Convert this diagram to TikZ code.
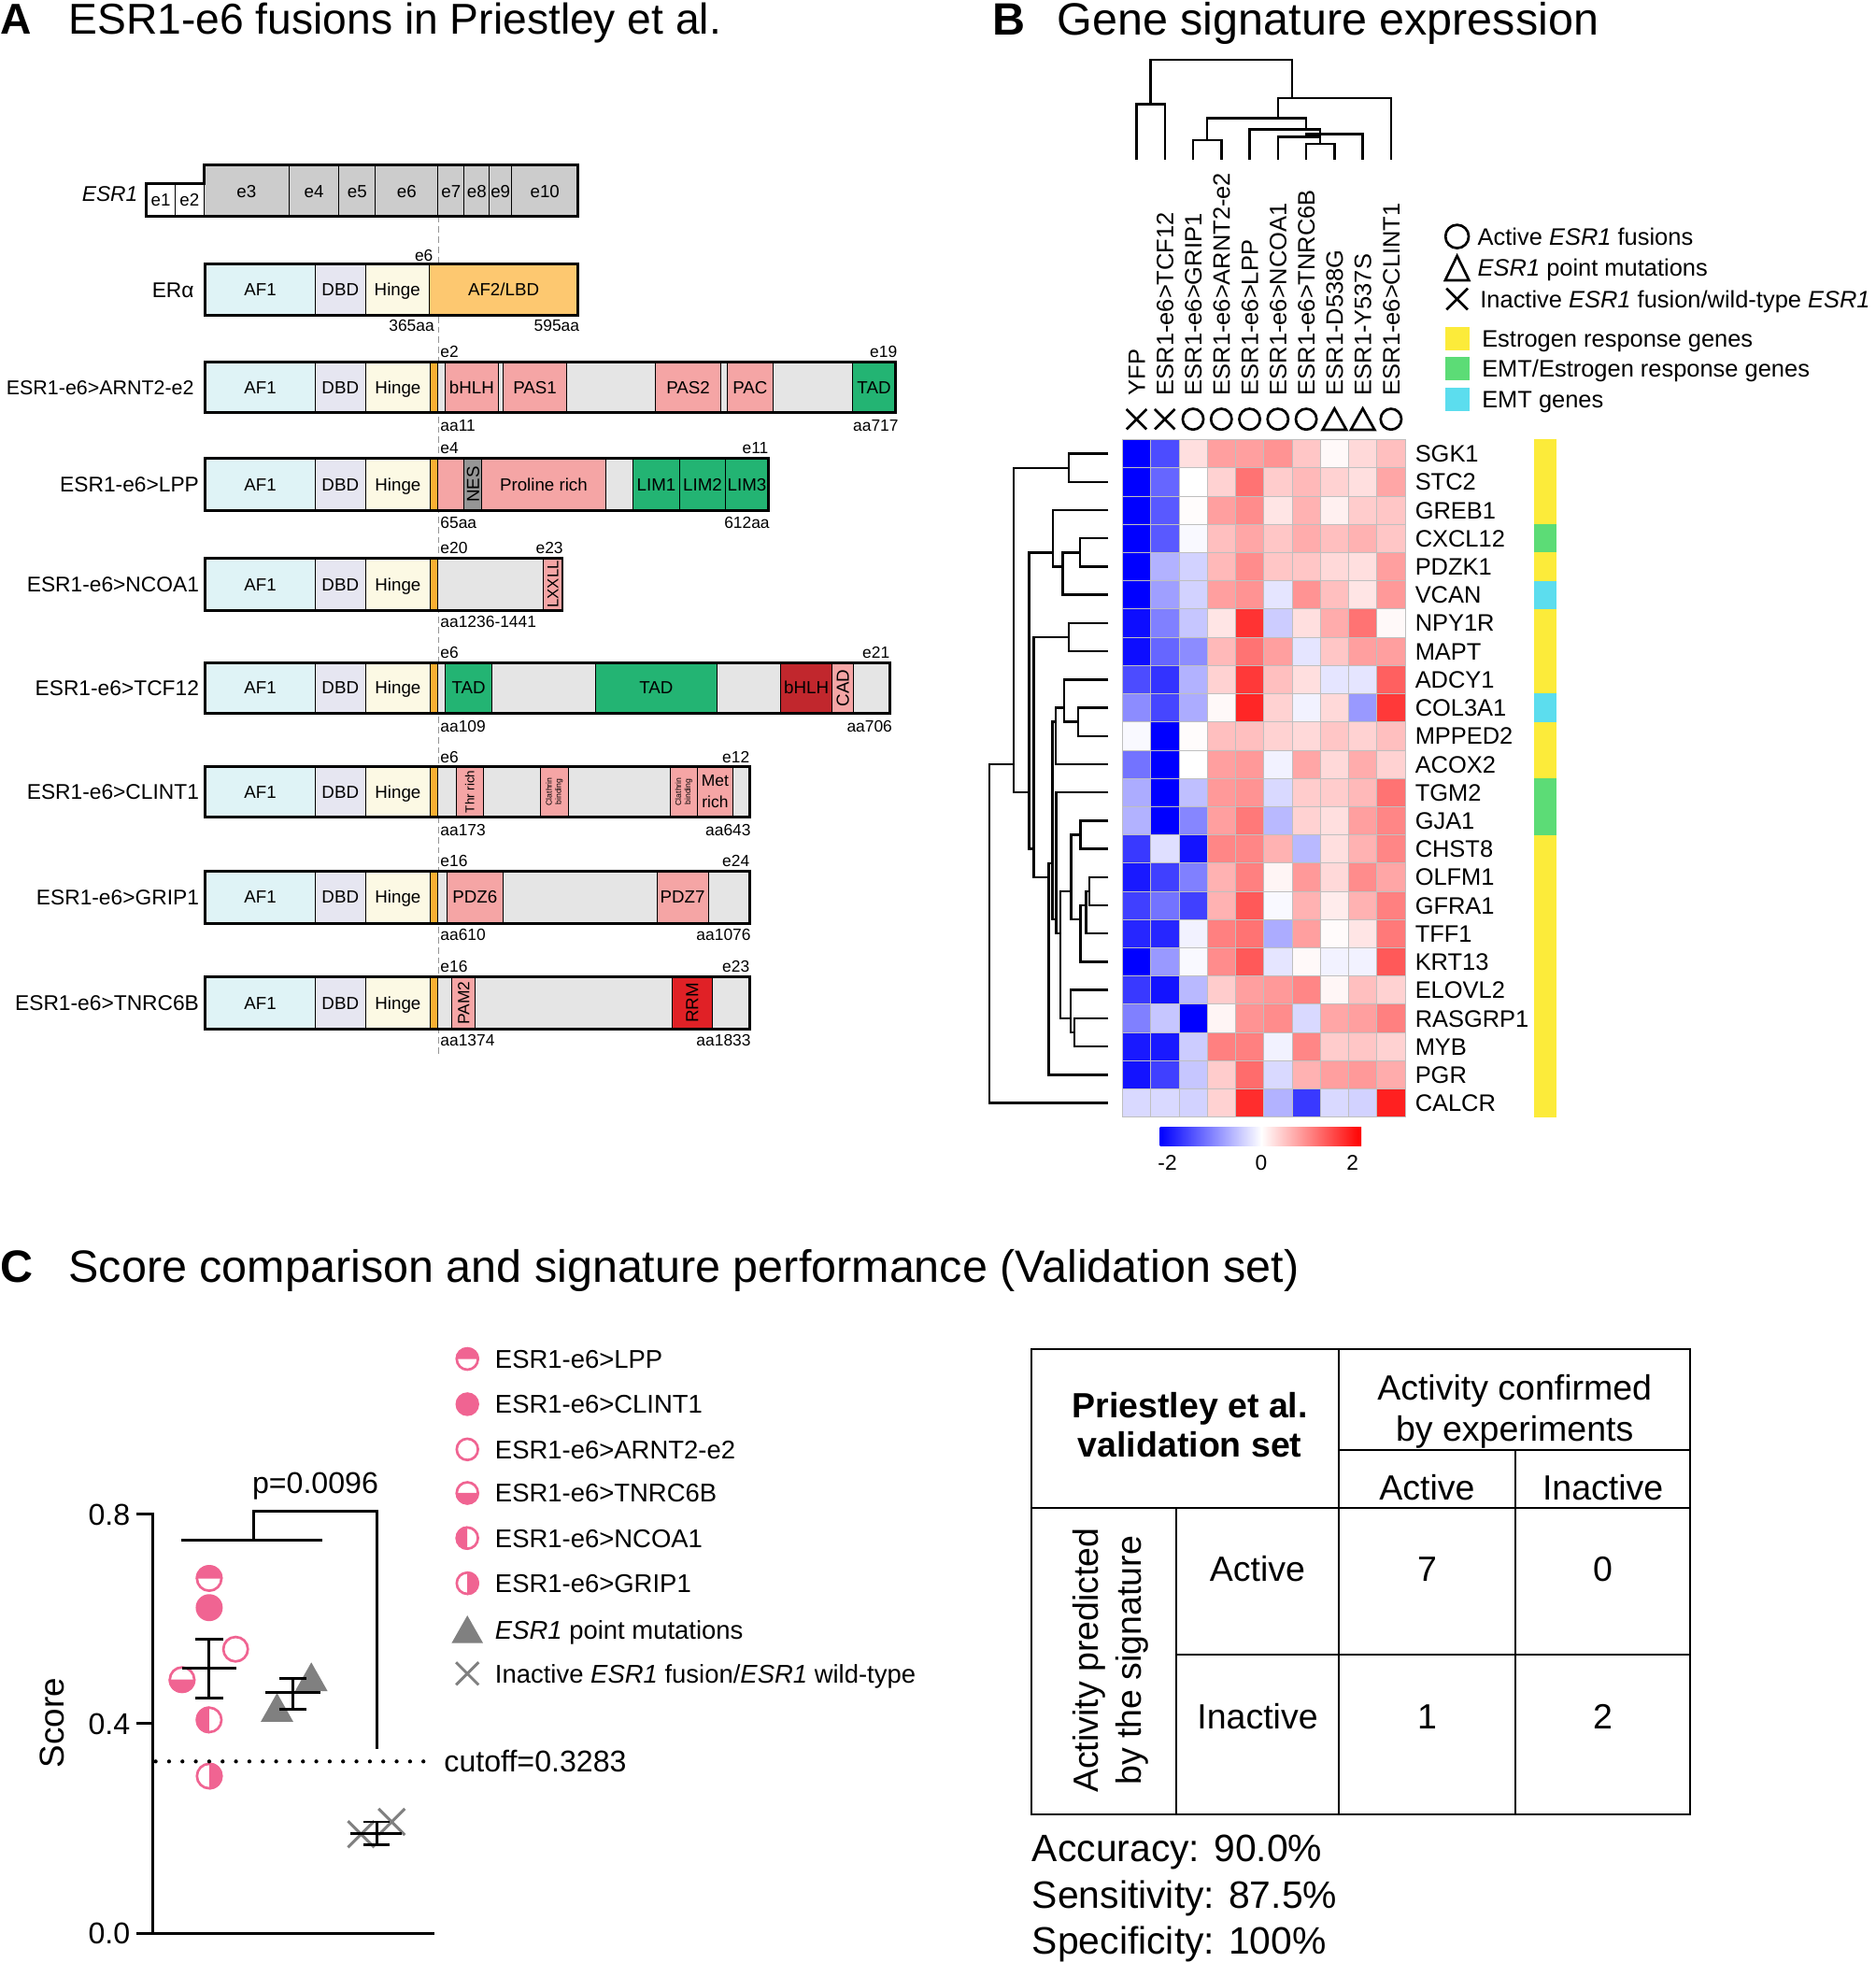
\documentclass[tikz,border=0pt]{standalone}
\usepackage{fontspec}
\setmainfont{Liberation Sans}
\definecolor{af1c}{RGB}{223,243,246}
\definecolor{dbdc}{RGB}{230,230,241}
\definecolor{hingec}{RGB}{252,249,228}
\definecolor{af2c}{RGB}{253,200,112}
\definecolor{orc}{RGB}{250,176,50}
\definecolor{pinkd}{RGB}{245,165,165}
\definecolor{grayd}{RGB}{229,229,229}
\definecolor{greend}{RGB}{35,180,115}
\definecolor{dredd}{RGB}{193,39,45}
\definecolor{redd}{RGB}{224,33,38}
\definecolor{nesc}{RGB}{150,150,150}
\definecolor{exonc}{RGB}{204,204,204}
\definecolor{annY}{RGB}{252,235,58}
\definecolor{annG}{RGB}{92,220,118}
\definecolor{annC}{RGB}{92,221,238}
\definecolor{pinkc}{RGB}{240,100,146}
\definecolor{grayc}{RGB}{128,128,128}
\definecolor{dashc}{RGB}{150,150,150}
\newcommand\fsz[1]{\fontsize{#1}{#1}\selectfont}
\newcommand\dseg[4]{\filldraw[fill=#3, thinln] (#1,\yt) rectangle (#2,\yb); \node[f14] at ({(#1+#2)/2},{(\yt+\yb)/2}) {#4};}
\newcommand\esrpart{\dseg{164}{252}{af1c}{AF1}\dseg{252}{292}{dbdc}{DBD}\dseg{292}{344}{hingec}{Hinge}\dseg{344}{350}{orc}{}}
\newcommand\cxx[1]{897+22.6*(#1-0.5)}
\newcommand\ryy[1]{351.3+22.56*(#1-0.5)}
\newcommand\tdm[5]{\draw[dend] ({\cxx{#1}},#2) -- ({\cxx{#1}},#5) -- ({\cxx{#3}},#5) -- ({\cxx{#3}},#4);}
\newcommand\rdm[5]{\draw[dend] (#2,{\ryy{#3}}) -- (#1,{\ryy{#3}}) -- (#1,{\ryy{#5}}) -- (#4,{\ryy{#5}});}
\newcommand\hcirc[4]{\fill[white] (#1,#2) circle[radius=#3pt];
  \fill[pinkc] (#1,#2) ++(#4:#3pt) arc[start angle=#4, delta angle=180, radius=#3pt] -- cycle;
  \draw[pinkc, line width=2pt] (#1,#2) circle[radius={#3pt-1pt}];}
\newcommand\fcirc[3]{\fill[pinkc] (#1,#2) circle[radius=#3pt];}
\newcommand\ocirc[3]{\fill[white] (#1,#2) circle[radius=#3pt]; \draw[pinkc, line width=2pt] (#1,#2) circle[radius={#3pt-1pt}];}
\begin{document}
\begin{tikzpicture}[x=1pt,y=-1pt,
  every node/.style={inner sep=0pt,outer sep=0pt},
  f13/.style={font=\fsz{13}, text height=9.3pt, text depth=0pt},
  f14/.style={font=\fsz{14}, text height=10pt, text depth=0pt},
  f16/.style={font=\fsz{16}, text height=11.5pt, text depth=0pt},
  f17/.style={font=\fsz{17}, text height=12.2pt, text depth=0pt},
  f19/.style={font=\fsz{19}, text height=13.6pt, text depth=0pt},
  f205/.style={font=\fsz{20.5}, text height=14.7pt, text depth=0pt},
  f24/.style={font=\fsz{24}, text height=17.2pt, text depth=0pt},
  f27/.style={font=\fsz{27.5}, text height=19.7pt, text depth=0pt},
  f28/.style={font=\fsz{28}, text height=20pt, text depth=0pt},
  f30/.style={font=\fsz{30.5}, text height=21.8pt, text depth=0pt},
  f345/.style={font=\fsz{34.5}, text height=24.7pt, text depth=0pt},
  f36/.style={font=\fsz{36.2}, text height=25.9pt, text depth=0pt},
  thinln/.style={line width=0.7pt},
  outer/.style={line width=2.2pt},
  dend/.style={line width=1.8pt},
  ebar/.style={line width=2.2pt},
  tline/.style={line width=1.5pt}
]
\useasboundingbox (0,0) rectangle (1499,1568);
\fill[white] (0,0) rectangle (1499,1568);

% ================= Panel A =================
\node[f345, anchor=west] (tA) at (0,15) {\textbf{A}};
\node[f345, anchor=west] (tAt) at (55,15) {ESR1-e6 fusions in Priestley et al.};

\draw[dashc, line width=1pt, dash pattern=on 5pt off 3pt] (350.5,173) -- (350.5,842);

% ESR1 exons
\filldraw[fill=white, thinln] (117,147) rectangle (140,173);
\filldraw[fill=white, thinln] (140,147) rectangle (163,173);
\node[f14] at (128.5,160) {e1};
\node[f14] at (151.5,160) {e2};
\foreach \a/\b/\l in {163/231/e3, 231/271/e4, 271/300/e5, 300/350/e6, 350/371/e7, 371/391/e8, 391/409/e9, 409/462/e10} {
  \filldraw[fill=exonc, thinln] (\a,131.5) rectangle (\b,173);
  \node[f14] at ({(\a+\b)/2},153) {\l};
}
\draw[outer] (117,147) -- (163,147) -- (163,131.5) -- (462,131.5) -- (462,173) -- (117,173) -- cycle;
\node[f17, anchor=east] (esr1) at (110,155) {\textit{ESR1}};

% ER alpha
\def\yt{211}\def\yb{252}
\dseg{164}{252}{af1c}{AF1}
\dseg{252}{292}{dbdc}{DBD}
\dseg{292}{343}{hingec}{Hinge}
\dseg{343}{462}{af2c}{AF2/LBD}
\draw[outer] (164,\yt) rectangle (462,\yb);
\node[f17, anchor=east] (era) at (155,232) {ERα};
\node[f13, anchor=east] at (346,204) {e6};
\node[f13, anchor=east] at (347,260) {365aa};
\node[f13, anchor=east] at (463,260) {595aa};

% ARNT2
\def\yt{289}\def\yb{330}
\esrpart
\dseg{350}{356}{grayd}{}
\dseg{356}{398}{pinkd}{bHLH}
\dseg{398}{402}{grayd}{}
\dseg{402}{453}{pinkd}{PAS1}
\dseg{453}{524}{grayd}{}
\dseg{524}{576}{pinkd}{PAS2}
\dseg{576}{581}{grayd}{}
\dseg{581}{618}{pinkd}{PAC}
\dseg{618}{681}{grayd}{}
\dseg{681}{716}{greend}{TAD}
\draw[outer] (164,\yt) rectangle (716,\yb);
\node[f16, anchor=east] (rARNT) at (155,309.5) {ESR1-e6>ARNT2-e2};
\node[f13, anchor=west] at (352,281) {e2};
\node[f13, anchor=east] at (717,281) {e19};
\node[f13, anchor=west] at (352,340) {aa11};
\node[f13, anchor=east] at (718,340) {aa717};

% LPP
\def\yt{366.5}\def\yb{408}
\esrpart
\dseg{350}{371}{pinkd}{}
\dseg{371}{385}{nesc}{}
\node[f14, rotate=90] at (378,387.25) {NES};
\dseg{385}{484}{pinkd}{Proline rich}
\dseg{484}{506}{grayd}{}
\dseg{506}{543}{greend}{LIM1}
\dseg{543}{580}{greend}{LIM2}
\dseg{580}{614}{greend}{LIM3}
\draw[outer] (164,\yt) rectangle (614,\yb);
\node[f17, anchor=east] (rLPP) at (159,387) {ESR1-e6>LPP};
\node[f13, anchor=west] at (352,358) {e4};
\node[f13, anchor=east] at (614,358) {e11};
\node[f13, anchor=west] at (352,417.5) {65aa};
\node[f13, anchor=east] at (615,417.5) {612aa};

% NCOA1
\def\yt{446}\def\yb{488}
\esrpart
\dseg{350}{434}{grayd}{}
\dseg{434}{449.5}{pinkd}{}
\node[font=\fsz{12.5}, text height=9pt, text depth=0pt, rotate=90] at (441.75,467) {LXXLL};
\draw[outer] (164,\yt) rectangle (449.5,\yb);
\node[f17, anchor=east] (rNCOA) at (159,467) {ESR1-e6>NCOA1};
\node[f13, anchor=west] at (352,438) {e20};
\node[f13, anchor=east] at (450,438) {e23};
\node[f13, anchor=west] at (352,497) {aa1236-1441};

% TCF12
\def\yt{529.5}\def\yb{570}
\esrpart
\dseg{350}{356}{grayd}{}
\dseg{356}{393}{greend}{TAD}
\dseg{393}{476}{grayd}{}
\dseg{476}{573}{greend}{TAD}
\dseg{573}{624}{grayd}{}
\dseg{624}{665}{dredd}{bHLH}
\dseg{665}{682}{pinkd}{}
\node[f14, rotate=90] at (673.5,549.75) {CAD};
\dseg{682}{711}{grayd}{}
\draw[outer] (164,\yt) rectangle (711,\yb);
\node[f17, anchor=east] (rTCF) at (159,550) {ESR1-e6>TCF12};
\node[f13, anchor=west] at (352,521) {e6};
\node[f13, anchor=east] at (711,521) {e21};
\node[f13, anchor=west] at (352,580) {aa109};
\node[f13, anchor=east] at (713,580) {aa706};

% CLINT1
\def\yt{612.5}\def\yb{653}
\esrpart
\dseg{350}{365}{grayd}{}
\dseg{365}{386}{pinkd}{}
\node[font=\fsz{10}, text height=7.2pt, text depth=0pt, rotate=90] at (375.5,632.75) {Thr rich};
\dseg{386}{432}{grayd}{}
\dseg{432}{454}{pinkd}{}
\node[font=\fontsize{6.5}{7.5}\selectfont, align=center, rotate=90] at (443,632.75) {Clathrin\\binding};
\dseg{454}{536}{grayd}{}
\dseg{536}{557}{pinkd}{}
\node[font=\fontsize{6.5}{7.5}\selectfont, align=center, rotate=90] at (546.5,632.75) {Clathrin\\binding};
\dseg{557}{586}{pinkd}{}
\node[font=\fontsize{13}{17}\selectfont, align=center] at (571.5,632.75) {Met\\rich};
\dseg{586}{599}{grayd}{}
\draw[outer] (164,\yt) rectangle (599,\yb);
\node[f17, anchor=east] (rCLINT) at (159,633) {ESR1-e6>CLINT1};
\node[f13, anchor=west] at (352,605) {e6};
\node[f13, anchor=east] at (599,605) {e12};
\node[f13, anchor=west] at (352,663) {aa173};
\node[f13, anchor=east] at (600,663) {aa643};

% GRIP1
\def\yt{696}\def\yb{738}
\esrpart
\dseg{350}{357}{grayd}{}
\dseg{357}{402}{pinkd}{PDZ6}
\dseg{402}{525}{grayd}{}
\dseg{525}{566}{pinkd}{PDZ7}
\dseg{566}{599}{grayd}{}
\draw[outer] (164,\yt) rectangle (599,\yb);
\node[f17, anchor=east] (rGRIP) at (159,717) {ESR1-e6>GRIP1};
\node[f13, anchor=west] at (352,688) {e16};
\node[f13, anchor=east] at (599,688) {e24};
\node[f13, anchor=west] at (352,746.5) {aa610};
\node[f13, anchor=east] at (600,746.5) {aa1076};

% TNRC6B
\def\yt{780.5}\def\yb{822.5}
\esrpart
\dseg{350}{361}{grayd}{}
\dseg{361}{380}{pinkd}{}
\node[font=\fsz{13}, text height=9.3pt, text depth=0pt, rotate=90] at (370.5,801.5) {PAM2};
\dseg{380}{537}{grayd}{}
\dseg{537}{569}{redd}{}
\node[f14, rotate=90] at (553,801.5) {RRM};
\dseg{569}{599}{grayd}{}
\draw[outer] (164,\yt) rectangle (599,\yb);
\node[f17, anchor=east] (rTNRC) at (159,801.5) {ESR1-e6>TNRC6B};
\node[f13, anchor=west] at (352,772.6) {e16};
\node[f13, anchor=east] at (599,772.6) {e23};
\node[f13, anchor=west] at (352,831) {aa1374};
\node[f13, anchor=east] at (600,831) {aa1833};

% ================= Panel B =================
\node[f36, anchor=west] (tB) at (793,15) {\textbf{B}};
\node[f36, anchor=west] (tBt) at (845,15) {Gene signature expression};

% heatmap
\def\hx{897}\def\hw{22.6}\def\hy{351.3}\def\hh{22.56}
\foreach \vals [count=\r] in {
 {-2,-1.4,0.25,0.75,0.75,0.85,0.45,0.05,0.3,0.5},
 {-2,-1.2,0,0.35,1.1,0.4,0.55,0.35,0.25,0.7},
 {-2,-1.3,0.02,0.75,0.9,0.2,0.6,0.12,0.4,0.45},
 {-2,-1.3,-0.05,0.5,0.7,0.45,0.65,0.5,0.6,0.45},
 {-2,-0.6,-0.35,0.55,0.9,0.45,0.45,0.3,0.25,0.75},
 {-2,-0.75,-0.35,0.75,0.85,-0.2,0.85,0.5,0.2,0.8},
 {-1.9,-1.0,-0.45,0.2,1.6,-0.4,0.25,0.65,1.1,0.05},
 {-1.9,-1.2,-0.9,0.55,1.1,0.75,-0.2,0.45,0.75,0.75},
 {-1.4,-1.6,-0.6,0.35,1.55,0.5,0.25,-0.2,-0.2,1.25},
 {-0.9,-1.45,-0.65,0.05,1.7,0.35,-0.1,0.3,-0.8,1.55},
 {-0.05,-2,0.02,0.5,0.5,0.35,0.3,0.45,0.35,0.5},
 {-1.1,-2,0,0.75,0.8,-0.1,0.7,0.3,0.65,0.35},
 {-0.65,-2,-0.5,0.8,0.85,-0.3,0.4,0.4,0.55,1.1},
 {-0.6,-2,-0.95,0.75,1.05,-0.55,0.35,0.25,0.75,0.95},
 {-1.55,-0.25,-1.85,0.95,0.95,0.6,-0.55,0.25,0.6,0.95},
 {-1.8,-1.5,-1.0,0.6,1.0,0.08,0.8,0.3,0.9,0.7},
 {-1.5,-1.1,-1.5,0.6,1.3,-0.05,0.6,0.15,0.6,1.0},
 {-1.7,-1.7,-0.1,1.0,1.1,-0.65,0.75,0.03,0.2,1.05},
 {-2,-0.8,-0.05,0.9,1.3,-0.2,0.05,-0.1,-0.1,1.3},
 {-1.55,-1.85,-0.55,0.4,0.75,0.8,0.95,0.07,0.5,0.35},
 {-1.0,-0.45,-2,0.08,0.85,0.9,-0.3,0.7,0.75,1.0},
 {-1.8,-1.8,-0.4,1.0,1.0,-0.1,0.95,0.4,0.45,0.35},
 {-1.85,-1.5,-0.45,0.4,1.15,-0.3,0.6,0.75,0.8,0.65},
 {-0.3,-0.3,-0.35,0.35,1.65,-0.6,-1.55,-0.3,-0.35,1.75}} {
  \foreach \v [count=\c] in \vals {
    \pgfmathsetmacro\pct{min(100,abs(\v)*50)}
    \ifdim \v pt<0pt \def\hc{blue}\else\def\hc{red}\fi
    \fill[\hc!\pct!white] ({\hx+\hw*(\c-1)},{\hy+\hh*(\r-1)}) rectangle ({\hx+\hw*\c},{\hy+\hh*\r});
  }
}
\foreach \c in {0,...,10} \draw[black!25, line width=0.5pt] ({\hx+\hw*\c},\hy) -- ({\hx+\hw*\c},{\hy+\hh*24});
\foreach \r in {0,...,24} \draw[black!25, line width=0.5pt] (\hx,{\hy+\hh*\r}) -- ({\hx+\hw*10},{\hy+\hh*\r});

% gene labels
\foreach \g [count=\r] in {SGK1,STC2,GREB1,CXCL12,PDZK1,VCAN,NPY1R,MAPT,ADCY1,COL3A1,MPPED2,ACOX2,TGM2,GJA1,CHST8,OLFM1,GFRA1,TFF1,KRT13,ELOVL2,RASGRP1,MYB,PGR,CALCR}
  \node[f19, anchor=west] (gene\r) at (1131,{\hy+\hh*(\r-0.5)}) {\g};

% annotation bar
\foreach \cl [count=\r] in {annY,annY,annY,annG,annY,annC,annY,annY,annY,annC,annY,annY,annG,annG,annY,annY,annY,annY,annY,annY,annY,annY,annY,annY}
  \fill[\cl] (1226,{\hy+\hh*(\r-1)}) rectangle (1244,{\hy+\hh*\r+0.3});

% column labels
\foreach \t [count=\c] in {YFP,ESR1-e6>TCF12,ESR1-e6>GRIP1,ESR1-e6>ARNT2-e2,ESR1-e6>LPP,ESR1-e6>NCOA1,ESR1-e6>TNRC6B,ESR1-D538G,ESR1-Y537S,ESR1-e6>CLINT1}
  \node[f19, rotate=90, anchor=west] (col\c) at ({\cxx{\c}},316) {\t};

% symbols row
\foreach \c in {1,2} \draw[line width=2pt] ({\cxx{\c}-8},327) -- ({\cxx{\c}+8},343) ({\cxx{\c}-8},343) -- ({\cxx{\c}+8},327);
\foreach \c in {3,4,5,6,7,10} \draw[line width=2pt] ({\cxx{\c}},335) circle[radius=8.3pt];
\foreach \c in {8,9} \draw[line width=2pt, line join=miter] ({\cxx{\c}-9.5},343.5) -- ({\cxx{\c}+9.5},343.5) -- ({\cxx{\c}},326.5) -- cycle;

% column dendrogram
\tdm{1}{128}{2}{128}{83.4}
\tdm{3}{128}{4}{128}{112}
\tdm{7}{128}{8}{128}{115.2}
\tdm{6}{128}{7.5}{115.2}{109.5}
\tdm{7}{109.5}{9}{128}{107}
\tdm{5}{128}{7.5}{107}{103.3}
\tdm{3.5}{112}{7}{103.3}{94.5}
\tdm{6}{94.5}{10}{128}{78.4}
\tdm{1.5}{83.4}{6.5}{78.4}{47.8}

% row dendrogram
\rdm{854.0}{885.9}{1}{885.9}{2}
\rdm{863.0}{885.9}{4}{885.9}{5}
\rdm{849.3}{863.0}{4.5}{885.9}{6}
\rdm{841.6}{885.9}{3}{849.3}{5}
\rdm{854.3}{885.9}{7}{885.9}{8}
\rdm{861.7}{885.9}{10}{885.9}{11}
\rdm{850.5}{885.9}{9}{861.7}{10.5}
\rdm{843.6}{850.5}{10}{885.9}{12}
\rdm{863.5}{885.9}{14}{885.9}{15}
\rdm{870.4}{885.9}{16}{885.9}{17}
\rdm{868.0}{870.4}{16.5}{885.9}{18}
\rdm{863.5}{868.0}{17}{885.9}{19}
\rdm{856.0}{863.5}{14.5}{863.5}{17.5}
\rdm{858.5}{885.9}{21}{885.9}{22}
\rdm{855.5}{885.9}{20}{858.5}{21.5}
\rdm{847.3}{856.0}{16.5}{855.5}{21}
\rdm{844.1}{885.9}{13}{847.3}{18}
\rdm{841.1}{843.6}{10.5}{844.1}{17.5}
\rdm{838.1}{841.1}{15.5}{885.9}{23}
\rdm{826.2}{854.3}{7.5}{838.1}{16}
\rdm{822.4}{841.6}{4.5}{826.2}{15}
\rdm{810.0}{854.0}{1.5}{822.4}{13}
\rdm{790.8}{810.0}{12}{885.9}{24}

% colour bar
\shade[left color=blue, right color=white] (927,900.5) rectangle (1008,916);
\shade[left color=white, right color=red] (1008,900.5) rectangle (1088,916);
\node[f17] (cbm) at (933,929) {-2};
\node[f17] (cb0) at (1008,929) {0};
\node[f17] (cbp) at (1081,929) {2};

% legend B
\draw[line width=2pt] (1164.5,189) circle[radius=9.3pt];
\node[f19, anchor=west] (lb1) at (1181,189) {Active \textit{ESR1} fusions};
\draw[line width=2pt, line join=miter] (1155,224) -- (1174,224) -- (1164.5,204.5) -- cycle;
\node[f19, anchor=west] (lb2) at (1181,214) {\textit{ESR1} point mutations};
\draw[line width=2pt] (1156,230.5) -- (1173,247.5) (1156,247.5) -- (1173,230.5);
\node[f19, anchor=west] (lb3) at (1183,239) {Inactive \textit{ESR1} fusion/wild-type \textit{ESR1}};
\fill[annY] (1155,261.3) rectangle (1174.5,280);
\node[f19, anchor=west] (lb4) at (1184.4,270.5) {Estrogen response genes};
\fill[annG] (1155,285.4) rectangle (1174.5,304);
\node[f19, anchor=west] (lb5) at (1184.4,294.7) {EMT/Estrogen response genes};
\fill[annC] (1155,309.8) rectangle (1174.5,328.5);
\node[f19, anchor=west] (lb6) at (1184.4,319) {EMT genes};

% ================= Panel C =================
\node[f36, anchor=west] (tC) at (0,1012) {\textbf{C}};
\node[f36, anchor=west] (tCt) at (55,1012) {Score comparison and signature performance (Validation set)};

% axes
\draw[ebar] (122.4,1208.9) -- (122.4,1545) -- (347,1545);
\draw[ebar] (108.7,1210) -- (122.4,1210);
\draw[ebar] (108.7,1377.5) -- (122.4,1377.5);
\draw[ebar] (108.7,1545) -- (122.4,1545);
\node[f24, anchor=east] (y08) at (104,1210) {0.8};
\node[f24, anchor=east] (y04) at (104,1377.5) {0.4};
\node[f24, anchor=east] (y00) at (104,1545) {0.0};
\node[f27, rotate=90] (score) at (41,1377) {Score};

% points
\hcirc{167.2}{1261.5}{10.8}{0}
\fcirc{167.2}{1284.8}{10.8}
\ocirc{188.3}{1318}{10.8}
\hcirc{145.5}{1342.3}{10.8}{180}
\hcirc{167.2}{1374.5}{10.8}{90}
\hcirc{167.2}{1419.4}{10.8}{270}
\fill[grayc] (208.4,1376) -- (234.4,1376) -- (221.4,1353) -- cycle;
\fill[grayc] (235.8,1351.5) -- (261.8,1351.5) -- (248.8,1328.5) -- cycle;
\draw[grayc, line width=2.2pt] (278.1,1455.4) -- (299.1,1476.4) (278.1,1476.4) -- (299.1,1455.4);
\draw[grayc, line width=2.2pt] (302.5,1445.5) -- (323.5,1466.5) (302.5,1466.5) -- (323.5,1445.5);

% error bars
\draw[ebar] (167.2,1309.7) -- (167.2,1356.9) (156,1309.7) -- (178.4,1309.7) (156,1356.9) -- (178.4,1356.9) (145.5,1333) -- (189.1,1333);
\draw[ebar] (233.9,1341.3) -- (233.9,1366.2) (223,1341.3) -- (245,1341.3) (223,1366.2) -- (245,1366.2) (212.2,1352.9) -- (256.3,1352.9);
\draw[ebar] (301,1456) -- (301,1474.2) (290.6,1456) -- (311,1456) (290.6,1474.2) -- (311,1474.2) (280,1465) -- (321,1465);

% significance bracket
\draw[ebar] (144.8,1230.6) -- (257.5,1230.6);
\draw[ebar] (202.8,1230.6) -- (202.8,1207.5) -- (301,1207.5) -- (301,1397.8);
\node[f24] (pval) at (252,1185) {p=0.0096};

% cutoff
\draw[line width=3.2pt, line cap=round, dash pattern=on 0pt off 10.7pt] (124.4,1407.7) -- (346,1407.7);
\node[f24, anchor=west] (cut) at (355,1407.7) {cutoff=0.3283};

% legend C
\hcirc{373.5}{1086.1}{9.5}{0}
\fcirc{373.5}{1122.2}{9.5}
\ocirc{373.5}{1158.3}{9.5}
\hcirc{373.5}{1193.1}{9.5}{180}
\hcirc{373.5}{1229.2}{9.5}{90}
\hcirc{373.5}{1265.3}{9.5}{270}
\fill[grayc] (361,1313) -- (386,1313) -- (373.5,1291) -- cycle;
\draw[grayc, line width=2.2pt] (364.5,1328.5) -- (382.5,1346.5) (364.5,1346.5) -- (382.5,1328.5);
\node[f205, anchor=west] (lc1) at (395.7,1086.1) {ESR1-e6>LPP};
\node[f205, anchor=west] (lc2) at (395.7,1122.2) {ESR1-e6>CLINT1};
\node[f205, anchor=west] (lc3) at (395.7,1158.3) {ESR1-e6>ARNT2-e2};
\node[f205, anchor=west] (lc4) at (395.7,1193.1) {ESR1-e6>TNRC6B};
\node[f205, anchor=west] (lc5) at (395.7,1229.2) {ESR1-e6>NCOA1};
\node[f205, anchor=west] (lc6) at (395.7,1265.3) {ESR1-e6>GRIP1};
\node[f205, anchor=west] (lc7) at (395.7,1302.6) {\textit{ESR1} point mutations};
\node[f205, anchor=west] (lc8) at (395.7,1337.5) {Inactive \textit{ESR1} fusion/\textit{ESR1} wild-type};

% table
\draw[tline] (824,1078.5) rectangle (1351,1450);
\draw[tline] (1070,1078.5) -- (1070,1450);
\draw[tline] (1070,1159) -- (1351,1159);
\draw[tline] (824,1205) -- (1351,1205);
\draw[tline] (1211,1159) -- (1211,1450);
\draw[tline] (940,1205) -- (940,1450);
\draw[tline] (940,1322) -- (1351,1322);
\node[f28] (th1) at (951,1123.3) {\textbf{Priestley et al.}};
\node[f28] (th2) at (951,1154.5) {\textbf{validation set}};
\node[f28] (th3) at (1210.5,1109) {Activity confirmed};
\node[f28] (th4) at (1210.5,1141.5) {by experiments};
\node[f28] (ca) at (1140.5,1188.7) {Active};
\node[f28] (ci) at (1281,1188.7) {Inactive};
\node[f28] (ra) at (1005,1254) {Active};
\node[f28] (ri) at (1005,1372) {Inactive};
\node[f28] (n7) at (1140.5,1254) {7};
\node[f28] (n0) at (1281,1254) {0};
\node[f28] (n1) at (1140.5,1372) {1};
\node[f28] (n2) at (1281,1372) {2};
\node[f28, rotate=90] (rl1) at (867.4,1327) {Activity predicted};
\node[f28, rotate=90] (rl2) at (902.3,1327) {by the signature};
\node[f30, anchor=west] (acc) at (825,1477) {Accuracy: 90.0\%};
\node[f30, anchor=west] (sen) at (825,1514) {Sensitivity: 87.5\%};
\node[f30, anchor=west] (spe) at (825,1551) {Specificity: 100\%};
\end{tikzpicture}
\end{document}
